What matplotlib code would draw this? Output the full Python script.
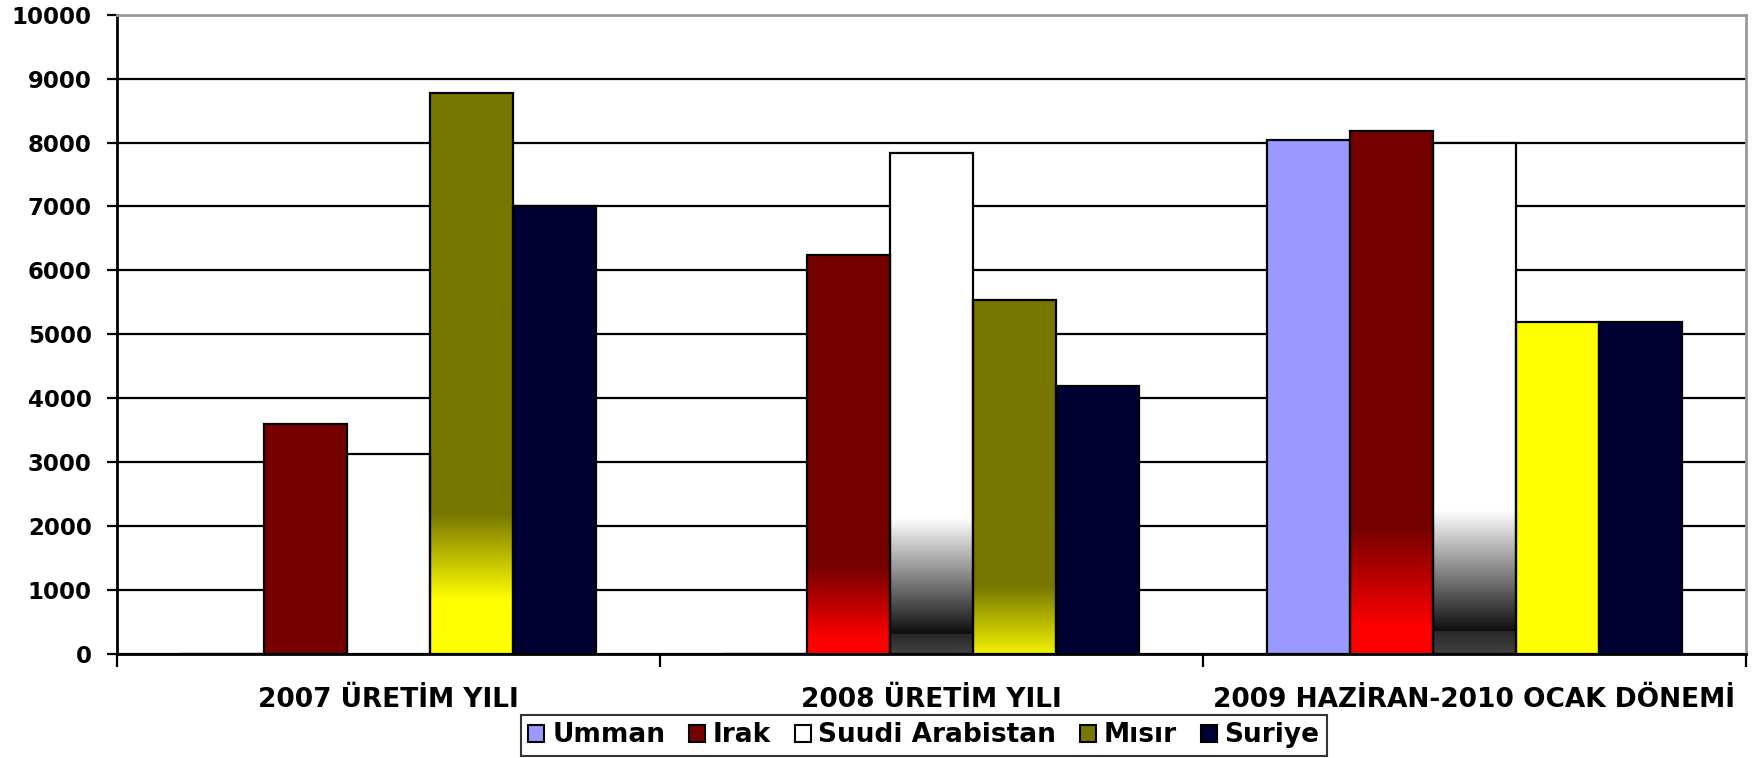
import numpy as np
import matplotlib
matplotlib.use("Agg")
import matplotlib.pyplot as plt
from matplotlib.patches import Patch
from matplotlib.colors import to_rgb

# data
categories = ["2007 ÜRETİM YILI", "2008 ÜRETİM YILI", "2009 HAZİRAN-2010 OCAK DÖNEMİ"]
series = ["Umman", "Irak", "Suudi Arabistan", "Mısır", "Suriye"]
umman = [0, 0, 8040]
irak = [3600, 6240, 8180]
suudi = [3130, 7840, 8000]
misir = [8770, 5540, 5190]
suriye = [7000, 4190, 5200]
yticks = np.arange(0, 10001, 1000)

values = [umman, irak, suudi, misir, suriye]
colors = ["#9999ff", "#770000", "#ffffff", "#777700", "#000033"]

# face style of single bars (plain colour override / bottom gradient)
face_override = {(3, 2): "#ffff00"}
# gradient: (series, group) -> (lo, hi) fraction of the bar height
grad = {(1, 1): (0.035, 0.218), (1, 2): (0.049, 0.24),
        (2, 1): (0.038, 0.27), (2, 2): (0.043, 0.28),
        (3, 0): (0.096, 0.25), (3, 1): (-0.02, 0.19)}
grad_cols = {1: ("#ff0000", "#760000"), 2: ("#0d0d0d", "#ffffff"),
             3: ("#ffff00", "#777700")}

plt.rcParams['font.family'] = ['DejaVu Sans']
plt.rcParams['font.weight'] = 'bold'

fig = plt.figure(figsize=(17.62, 7.58), dpi=100)
ax = fig.add_axes([0.0664, 0.1372, 0.9909 - 0.0664, 0.9806 - 0.1372])

x = np.arange(len(categories))
w = 0.1532


def gradient_img(s, lo, hi, h, n=400):
    fr = np.linspace(0, 1, n)
    bot, top = np.array(to_rgb(grad_cols[s][0])), np.array(to_rgb(grad_cols[s][1]))
    t = np.clip((fr - lo) / (hi - lo), 0, 1)[:, None]
    img = bot + (top - bot) * t
    if s == 2:
        # dark grey band under the black part
        band = fr < lo
        g = 0.26 + (0.16 - 0.26) * (fr[band] / max(lo, 1e-6))
        img[band] = np.column_stack([g, g, g])
    return img[:, None, :]


for i, (vals, c) in enumerate(zip(values, colors)):
    xs = x + (i - 2) * w
    fc = [face_override.get((i, j), c) for j in range(len(categories))]
    bars = ax.bar(xs, vals, w, color=fc, edgecolor="none", zorder=2)
    for j, b in enumerate(bars):
        if (i, j) in grad:
            lo, hi = grad[(i, j)]
            h = b.get_height()
            ax.imshow(gradient_img(i, lo, hi, h), origin="lower", aspect="auto",
                      extent=[b.get_x(), b.get_x() + b.get_width(), 0, h], zorder=2.5)
    ax.bar(xs, vals, w, fill=False, edgecolor="black", linewidth=1.6, zorder=3)

ax.set_xlim(-0.5, 2.5)
ax.set_ylim(0, 10000)
ax.set_yticks(yticks)
ax.set_yticklabels([str(v) for v in yticks])
ax.yaxis.grid(True, color="black", linewidth=1.6)
ax.set_axisbelow(True)

ax.set_xticks(x)
ax.set_xticklabels(categories)
ax.set_xticks([-0.5, 0.5, 1.5, 2.5], minor=True)
ax.tick_params(axis="x", which="major", length=0, pad=24, labelsize=19)
ax.tick_params(axis="x", which="minor", length=9, width=1.6, color="black")
ax.tick_params(axis="y", length=7.2, width=1.6, pad=11, labelsize=16.5)

for side in ["left", "bottom"]:
    ax.spines[side].set_color("black")
    ax.spines[side].set_linewidth(2)
for side in ["top", "right"]:
    ax.spines[side].set_color("#999999")
    ax.spines[side].set_linewidth(2)

handles = [Patch(facecolor=c, edgecolor="black", linewidth=1.5) for c in colors]
leg = fig.legend(handles, series, loc="center", bbox_to_anchor=(0.5244, 0.0297),
                 ncol=5, fontsize=19, frameon=True, fancybox=False,
                 handlelength=0.6, handleheight=0.6, handletextpad=0.3,
                 columnspacing=0.9, borderpad=0.3, borderaxespad=0)
leg.get_frame().set_edgecolor("black")
leg.get_frame().set_linewidth(1.5)

fig.savefig("out.png", dpi=100)
